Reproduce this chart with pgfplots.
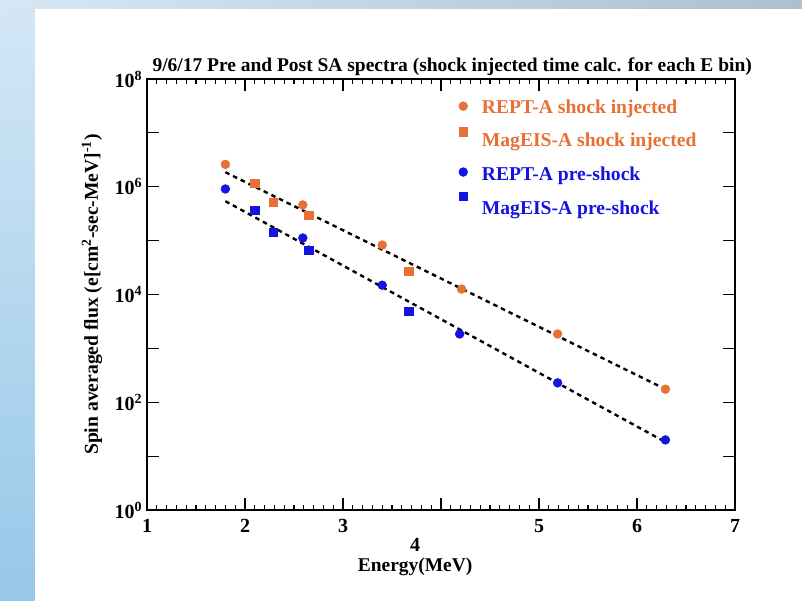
\documentclass[border=0pt]{standalone}
\usepackage{fontspec}
\setmainfont{Liberation Serif}
\usepackage{pgfplots}
\pgfplotsset{compat=1.18}

\definecolor{injorange}{RGB}{232,112,52}
\definecolor{preblue}{RGB}{20,20,225}

% fixed-size legend image; the mark may sit above the text line (squares do in the original)
\pgfplotsset{
  legmark/.style={legend image code/.code={%
    \path[draw=none,fill=none] (0pt,-5pt) rectangle (18pt,5pt);
    \draw[##1,overlay] plot coordinates {(6pt,#1)};}},
}

\begin{document}
\begin{tikzpicture}
% slide background
\fill[white] (0,0) rectangle (601.5pt,-450pt);
\shade[top color={rgb,255:red,212;green,231;blue,246}, bottom color={rgb,255:red,150;green,200;blue,232}]
  (0,0) rectangle (26pt,-450pt);
\shade[left color={rgb,255:red,214;green,232;blue,246}, right color={rgb,255:red,172;green,192;blue,208}]
  (0,0) rectangle (601.5pt,-6.5pt);
\path[use as bounding box] (0,0) rectangle (601.5pt,-450pt);

\begin{axis}[
  at={(110.25pt,-382.5pt)}, anchor=south west,
  scale only axis, width=441pt, height=323.25pt,
  xmin=1, xmax=7,
  ymode=log, ymin=1, ymax=1e8,
  xtick={1,2,3,4,5,6,7},
  xticklabels={1,2,3,{\raisebox{-14pt}[\height][\depth]{\makebox[0pt]{4\hspace*{39pt}}}},5,6,7},
  minor x tick num=9,
  ytick={1,10,100,1000,10000,100000,1000000,10000000,100000000},
  yticklabels={10\textsuperscript{0},,10\textsuperscript{2},,10\textsuperscript{4},,10\textsuperscript{6},,10\textsuperscript{8}},
  yminorticks=false,
  tick align=inside, tick pos=both,
  major tick length=9pt, minor tick length=3.5pt,
  axis line style={line width=1.1pt},
  every tick/.style={black, line width=0.9pt},
  ticklabel style={font=\bfseries\fontsize{15}{17}\selectfont},
  xticklabel style={yshift=-3.5pt},
  title={9/6/17 Pre and Post SA spectra (shock injected time calc. for each E bin)},
  title style={at={(axis description cs:0.519,1.011)}, anchor=center,
    font=\bfseries\fontsize{14.6}{16}\selectfont},
  xlabel={Energy(MeV)},
  xlabel style={at={(axis description cs:0.456,-0.132)}, anchor=center,
    font=\bfseries\fontsize{14.6}{16}\selectfont},
  ylabel={Spin averaged flux (e[cm\textsuperscript{2}-sec-MeV]\textsuperscript{-1})},
  ylabel style={at={(axis description cs:-0.0935,0.5)}, anchor=center,
    font=\bfseries\fontsize{14.7}{16}\selectfont},
  legend style={draw=none, fill=none, at={(axis description cs:0.517,0.965)}, anchor=north west,
    font=\bfseries\fontsize{14.7}{16}\selectfont, row sep=9.5pt},
  legend cell align=left,
]

% REPT-A shock injected
\addplot[only marks, mark=*, mark size=3.3pt, color=injorange, legmark=1pt] coordinates {
  (1.80,2.6e6) (2.59,4.6e5) (3.40,8.3e4) (4.21,1.26e4) (5.19,1.85e3) (6.29,175)
};
\addlegendentry{\textcolor{injorange}{REPT-A shock injected}}

% MagEIS-A shock injected
\addplot[only marks, mark=square*, mark size=3.1pt, color=injorange, legmark=7pt] coordinates {
  (2.10,1.17e6) (2.29,5.2e5) (2.65,3.0e5) (3.67,2.7e4)
};
\addlegendentry{\textcolor{injorange}{MagEIS-A shock injected}}

% REPT-A pre-shock
\addplot[only marks, mark=*, mark size=3.3pt, color=preblue, legmark=2pt] coordinates {
  (1.80,9.1e5) (2.59,1.12e5) (3.40,1.49e4) (4.19,1.85e3) (5.19,229) (6.29,20)
};
\addlegendentry{\textcolor{preblue}{REPT-A pre-shock}}

% MagEIS-A pre-shock
\addplot[only marks, mark=square*, mark size=3.1pt, color=preblue, legmark=9pt] coordinates {
  (2.10,3.7e5) (2.29,1.44e5) (2.65,6.7e4) (3.67,4.9e3)
};
\addlegendentry{\textcolor{preblue}{MagEIS-A pre-shock}}

% exponential fits (dashed)
\addplot[black, line width=1.8pt, dash pattern=on 3.4pt off 3pt, forget plot] coordinates {
  (1.80,1.86e6) (6.25,190)
};
\addplot[black, line width=1.8pt, dash pattern=on 3.4pt off 3pt, forget plot] coordinates {
  (1.80,5.4e5) (6.25,20)
};
\end{axis}
\end{tikzpicture}
\end{document}
